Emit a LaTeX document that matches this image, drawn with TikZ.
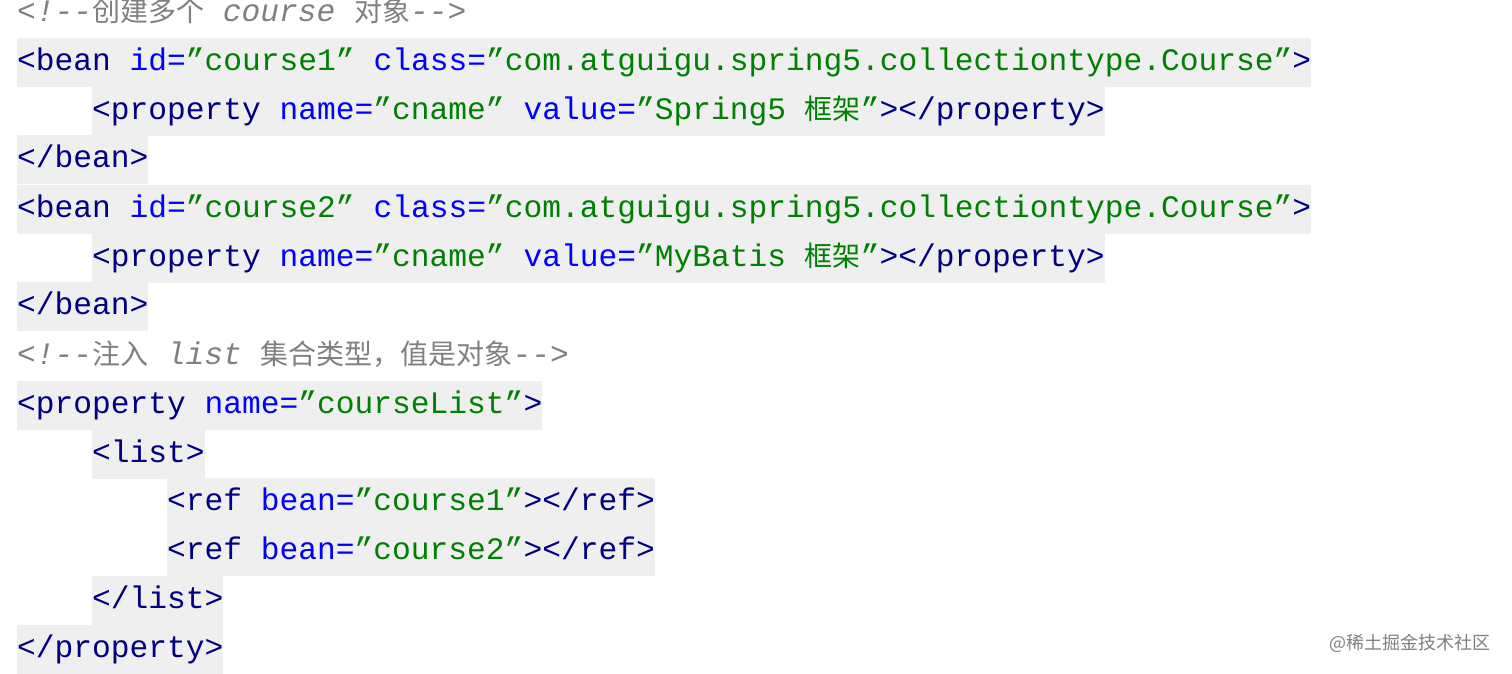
\documentclass[tikz,border=0pt]{standalone}
\usepackage{fontspec}
\newfontfamily\code{Liberation Mono}
\newfontfamily\cjk{Noto Sans CJK SC}
\definecolor{tagc}{HTML}{000080}
\definecolor{attc}{HTML}{0000FF}
\definecolor{valc}{HTML}{008000}
\definecolor{comc}{HTML}{808080}
\definecolor{band}{HTML}{EFEFEF}
\newcommand{\T}[1]{\textcolor{tagc}{#1}}
\newcommand{\A}[1]{\textcolor{attc}{#1}}
\newcommand{\V}[1]{\textcolor{valc}{#1}}
\newcommand{\Z}[1]{{\cjk\fontsize{28}{30}\selectfont #1}}
\tikzset{codeln/.style={anchor=west,inner sep=0pt,fill=band,minimum height=49pt,text height=23pt,text depth=7pt,font=\code\fontsize{31.25}{34}\selectfont},
commentln/.style={codeln,fill=none,text=comc,font=\code\itshape\fontsize{31.25}{34}\selectfont}}
\begin{document}
\begin{tikzpicture}[x=1pt,y=1pt]
\useasboundingbox (0,0) rectangle (1512,674);
\fill[white] (0,0) rectangle (1512,674);
\node[commentln] (l1) at (17,660) {<!-{}-\Z{创建多个} course \Z{对象}-{}->};
\node[codeln] (l2) at (17,611) {\T{<bean} \A{id=}\V{”course1”} \A{class=}\V{”com.atguigu.spring5.collectiontype.Course”}\T{>}};
\node[codeln] (l3) at (92,562) {\T{<property} \A{name=}\V{”cname”} \A{value=}\V{”Spring5 \Z{框架}”}\T{></property>}};
\node[codeln] (l4) at (17,514) {\T{</bean>}};
\node[codeln] (l5) at (17,464) {\T{<bean} \A{id=}\V{”course2”} \A{class=}\V{”com.atguigu.spring5.collectiontype.Course”}\T{>}};
\node[codeln] (l6) at (92,415) {\T{<property} \A{name=}\V{”cname”} \A{value=}\V{”MyBatis \Z{框架}”}\T{></property>}};
\node[codeln] (l7) at (17,367) {\T{</bean>}};
\node[commentln] (l8) at (17,317) {<!-{}-\Z{注入} list \Z{集合类型，值是对象}-{}->};
\node[codeln] (l9) at (17,268) {\T{<property} \A{name=}\V{”courseList”}\T{>}};
\node[codeln] (l10) at (92,219) {\T{<list>}};
\node[codeln] (l11) at (167,171) {\T{<ref} \A{bean=}\V{”course1”}\T{></ref>}};
\node[codeln] (l12) at (167,122) {\T{<ref} \A{bean=}\V{”course2”}\T{></ref>}};
\node[codeln] (l13) at (92,73) {\T{</list>}};
\node[codeln] (l14) at (17,24) {\T{</property>}};
\node[anchor=east,text=comc,font=\cjk\fontsize{18}{20}\selectfont] (wm) at (1494,31) {@稀土掘金技术社区};
\end{tikzpicture}
\end{document}
